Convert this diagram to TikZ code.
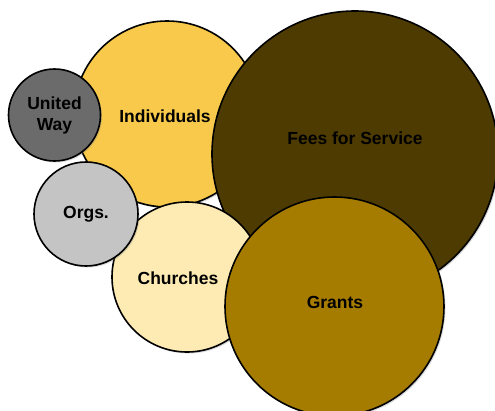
\documentclass[tikz,border=0pt]{standalone}
\usepackage{fontspec}
\setmainfont{Liberation Sans}
\usetikzlibrary{shadows}

\definecolor{wayGray}{HTML}{6B6B6B}
\definecolor{indivGold}{HTML}{F8C94A}
\definecolor{feesBrown}{HTML}{4E3B02}
\definecolor{orgsGray}{HTML}{C4C4C4}
\definecolor{churchCream}{HTML}{FEEBB3}
\definecolor{grantsGold}{HTML}{A67C00}

\tikzset{
    bubbletext/.style={text=black, align=center,
        font=\fontsize{17.5}{21}\selectfont\bfseries},
    bubble/.style={circle, draw=black, line width=1.6pt, inner sep=0pt,
        bubbletext,
        drop shadow={opacity=0.3, shadow xshift=1.5pt, shadow yshift=-1.5pt}}
}

\begin{document}
\begin{tikzpicture}[x=1pt, y=-1pt]
        \useasboundingbox (0,0) rectangle (495,410);

        % Bubbles, back to front
        \node[bubble, fill=indivGold, minimum size=186pt] (individuals) at (167,114) {};
        \node[bubbletext] (individualstext) at (165,116) {Individuals};
        \node[bubble, fill=wayGray, minimum size=92pt] (unitedway) at (54.5,115) {United\\Way};
        \node[bubble, fill=feesBrown, minimum size=286pt] (fees) at (355,154) {};
        \node[bubbletext] (feestext) at (355,138) {Fees for Service};
        \node[bubble, fill=churchCream, minimum size=150pt] (churches) at (187,277) {};
        \node[bubbletext] (churchestext) at (178,278) {Churches};
        \node[bubble, fill=orgsGray, minimum size=104pt] (orgs) at (86,214) {Orgs.};
        \node[bubble, fill=grantsGold, minimum size=219pt] (grants) at (334.5,306.5) {};
        \node[bubbletext] (grantstext) at (335,302) {Grants};
    \end{tikzpicture}
\end{document}
